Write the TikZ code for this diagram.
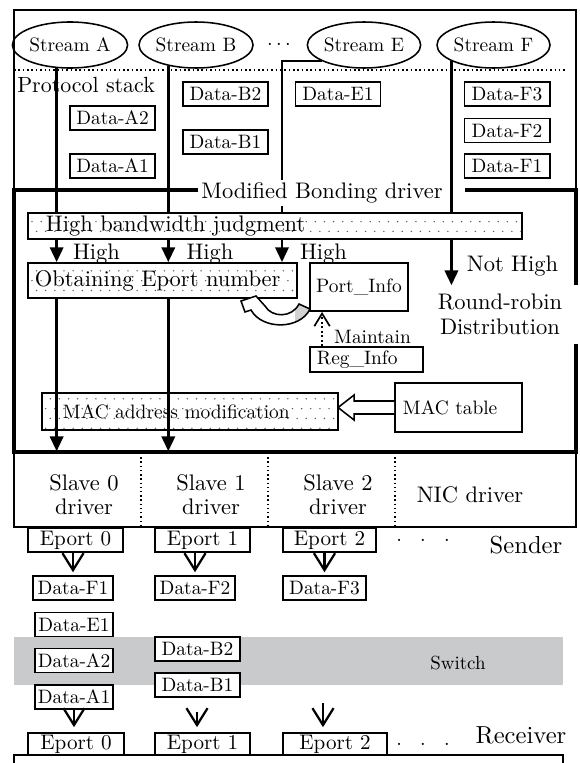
\documentclass[tikz,border=0pt]{standalone}
\usepackage{fontspec}
\setmainfont{lmroman10-regular.otf}
\usetikzlibrary{shapes.geometric,arrows.meta,patterns}
\pgfdeclarepatternformonly{sparsedots}{\pgfpoint{-0.6pt}{-0.6pt}}{\pgfpoint{6pt}{13.5pt}}{\pgfpoint{6.5pt}{14pt}}{%
  \pgfpathcircle{\pgfpoint{0pt}{0pt}}{0.55pt}%
  \pgfpathcircle{\pgfpoint{3.25pt}{7pt}}{0.55pt}%
  \pgfusepath{fill}%
}
\definecolor{switchgray}{RGB}{201,202,204}
\begin{document}
\begin{tikzpicture}[x=0.025cm, y=0.025cm,
    every node/.style={inner sep=0pt},
    thinline/.style={line width=1.1pt},
    thickline/.style={line width=2.6pt},
    smalltext/.style={font=\fontsize{13.8}{15}\selectfont},
    bigtext/.style={font=\fontsize{16}{17}\selectfont},
    eporttext/.style={font=\fontsize{15}{16}\selectfont},
    sidetext/.style={font=\fontsize{17.5}{19}\selectfont},
    stream/.style={ellipse, draw, thinline, minimum width=2.825cm, minimum height=1.15cm, smalltext},
    databox/.style={draw, line width=1.4pt, fill=white, minimum width=2.125cm, minimum height=0.6cm, smalltext},
    eportbox/.style={draw, line width=1.3pt, fill=white, minimum height=0.6cm, eporttext},
    dotbox/.style={draw, line width=1.3pt, preaction={fill=white}, pattern=sparsedots, pattern color=black!65, align=left, bigtext},
    plainbox/.style={draw, line width=1.3pt, fill=white, align=left, smalltext},
    streamline/.style={line width=1.7pt},
    higharrow/.style={line width=1.7pt, -{Triangle[length=10.5pt,width=9.5pt]}},
    varrow/.style={line width=1.6pt, -{Straight Barb[length=12pt,width=15pt]}}]
  \useasboundingbox (0,0) rectangle (579,-763);
  \draw[thinline] (14,-190) -- (14,-10) -- (576,-10) -- (576,-190);
  \node[stream] (ellA) at (70,-45) {Stream A};
  \node[stream] (ellB) at (196,-45) {Stream B};
  \node[smalltext] (sdots) at (279,-45) {$\cdots$};
  \node[stream] (ellE) at (364,-45) {Stream E};
  \node[stream] (ellF) at (493.5,-45) {Stream F};
  \draw[thinline, dotted] (14,-70) -- (567,-70);
  \node[anchor=west, font=\fontsize{15.6}{17}\selectfont] (pstack) at (17,-85) {Protocol stack};
  \node[databox] (pA2) at (112.5,-118) {Data-A2};
  \node[databox] (pA1) at (112.5,-166) {Data-A1};
  \node[databox] (pB2) at (225.5,-94) {Data-B2};
  \node[databox] (pB1) at (225.5,-142) {Data-B1};
  \node[databox] (pE1) at (338,-94) {Data-E1};
  \node[databox] (pF3) at (507,-94) {Data-F3};
  \node[databox] (pF2) at (507,-130.5) {Data-F2};
  \node[databox] (pF1) at (507,-166) {Data-F1};
  \node[dotbox, text width=11.45cm, inner xsep=0.45cm, minimum height=0.65cm] (hb) at (275,-226) {High bandwidth judgment};
  \node[dotbox, text width=6.375cm, inner xsep=0.175cm, minimum height=0.875cm] (obt) at (162.5,-280.5) {Obtaining Eport number};
  \node[plainbox, align=center, minimum width=2.45cm, minimum height=1.2cm] (port) at (359,-287) {Port\_Info};
  \node[plainbox, text width=2.475cm, inner xsep=0.175cm, minimum height=0.625cm] (reg) at (366.5,-359.5) {Reg\_Info};
  \node[dotbox, smalltext, text width=6.35cm, inner xsep=0.525cm, minimum height=0.925cm] (macAddr) at (190,-411.5) {MAC address modification};
  \node[plainbox, text width=2.775cm, inner xsep=0.2cm, minimum height=1.225cm] (macTab) at (458.5,-407.5) {MAC table};
  \node[bigtext] (hiA) at (96.5,-254) {High};
  \node[bigtext] (hiB) at (210,-254) {High};
  \node[bigtext] (hiE) at (323.5,-254) {High};
  \node[bigtext] (notHigh) at (512.5,-266) {Not High};
  \node[smalltext] (maint) at (372.5,-337) {Maintain};
  \node[draw, thinline, minimum width=14.05cm, minimum height=1.875cm] (slaves) at (295,-489.5) {};
  \draw[streamline] (ellA.240) -- (ellA.240 |- hb.north);
  \draw[higharrow] (ellA.240 |- hb.south) -- (ellA.240 |- obt.north);
  \draw[higharrow] (ellA.240 |- obt.south) -- (ellA.240 |- slaves.north);
  \draw[streamline] (ellB.217) -- (ellB.217 |- hb.north);
  \draw[higharrow] (ellB.217 |- hb.south) -- (ellB.217 |- obt.north);
  \draw[higharrow] (ellB.217 |- obt.south) -- (ellB.217 |- slaves.north);
  \coordinate (colE) at (282,-100);
  \draw[streamline] (ellE.201) -| (colE |- hb.north);
  \draw[higharrow] (colE |- hb.south) -- (colE |- obt.north);
  \draw[streamline] (ellF.201) -- (ellF.201 |- hb.north);
  \node[bigtext, fill=white, inner sep=2pt] (title) at (322,-193) {Modified Bonding driver};
  \draw[thickline] (title.west |- 14,-190) -- (14,-190) -- (14,-452) -- (576,-452) -- (576,-190) -- (465,-190);
  \node[fill=white, align=center, minimum width=3.95cm, minimum height=1.45cm, font=\fontsize{16}{17.7}\selectfont] (rr) at (500,-314.5) {Round-robin\\Distribution};
  \draw[higharrow] (ellF.201 |- hb.south) -- (ellF.201 |- rr.north);
  \path (reg.north west) ++(13,0) coordinate (mntFoot);
  \draw[dotted, line width=1.2pt, -{Straight Barb[length=9pt,width=11pt]}] (mntFoot) -- (mntFoot |- port.south);
  \draw[thinline, fill=white] (macTab.west) ++(0,6.5) -- ++(-40,0) -- ++(0,6) -- ++(-16,-12.5) -- ++(16,-12.5) -- ++(0,6) -- ++(40,0);
  \fill[white] (299,-304) .. controls (292,-318) and (272,-318) .. (265,-306) -- (256,-296) -- (241,-301) -- (245,-312) -- (251,-310) .. controls (262,-330) and (300,-330) .. (310,-309) -- cycle;
  \begin{scope}
    \clip (295,-290) rectangle (320,-335);
    \fill[gray!35] (299,-304) .. controls (292,-318) and (272,-318) .. (265,-306) -- (256,-296) -- (241,-301) -- (245,-312) -- (251,-310) .. controls (262,-330) and (300,-330) .. (310,-309) -- cycle;
  \end{scope}
  \draw[thinline] (299,-304) .. controls (292,-318) and (272,-318) .. (265,-306) -- (256,-296) -- (241,-301) -- (245,-312) -- (251,-310) .. controls (262,-330) and (300,-330) .. (310,-309) -- cycle;
  \foreach \x in {141,268,395}
    \draw[line width=1pt, dotted] (\x,-453) -- (\x,-527);
  \node[bigtext, align=center] (s0) at (84,-495) {Slave 0\\driver};
  \node[bigtext, align=center] (s1) at (211,-495) {Slave 1\\driver};
  \node[bigtext, align=center] (s2) at (338,-495) {Slave 2\\driver};
  \node[bigtext] (nic) at (470,-495) {NIC driver};
  \node[eportbox, minimum width=2.375cm] (sEp0) at (75.5,-540) {Eport 0};
  \node[eportbox, minimum width=2.375cm] (sEp1) at (202.5,-540) {Eport 1};
  \node[eportbox, minimum width=2.325cm] (sEp2) at (329.5,-540) {Eport 2};
  \node[eporttext] (sDots) at (423,-541) {$\cdot$\hspace{13pt}$\cdot$\hspace{13pt}$\cdot$};
  \node[sidetext] (sender) at (526,-545) {Sender};
  \fill[switchgray] (14,-637) rectangle (563,-685);
  \node[font=\fontsize{13.5}{15}\selectfont] (switch) at (458,-663) {Switch};
  \node[databox, minimum width=2cm] (dF1) at (73,-588) {Data-F1};
  \node[databox, minimum width=2cm] (dF2) at (195,-588) {Data-F2};
  \node[databox, minimum width=2.075cm] (dF3) at (324.5,-588) {Data-F3};
  \node[databox, minimum width=1.95cm] (dE1) at (74,-624.5) {Data-E1};
  \node[databox, minimum width=1.95cm] (dA2) at (74,-660.5) {Data-A2};
  \node[databox, minimum width=1.95cm] (dA1) at (74,-697) {Data-A1};
  \node[databox] (dB2) at (197.5,-649) {Data-B2};
  \node[databox] (dB1) at (197.5,-685) {Data-B1};
  \draw[varrow, shorten >=2pt] (dF1 |- sEp0.south) -- (dF1.north);
  \draw[varrow, shorten >=2pt] (dF2 |- sEp1.south) -- (dF2.north);
  \draw[varrow, shorten >=2pt] (dF3 |- sEp2.south) -- (dF3.north);
  \draw[thinline] (14,-766) |- (563,-755) -- (563,-766);
  \node[eportbox, minimum width=2.4cm, minimum height=0.55cm] (rEp0) at (76,-744) {Eport 0};
  \node[eportbox, minimum width=2.375cm, minimum height=0.55cm] (rEp1) at (202.5,-744) {Eport 1};
  \node[eportbox, minimum width=2.6cm, minimum height=0.55cm] (rEp2) at (335,-744) {Eport 2};
  \node[eporttext] (rDots) at (423,-745) {$\cdot$\hspace{13pt}$\cdot$\hspace{13pt}$\cdot$};
  \node[sidetext] (receiver) at (521,-735) {Receiver};
  \coordinate (rB) at (197,-712);
  \coordinate (rE) at (323,-703);
  \draw[varrow, shorten >=3.5pt] (dA1.south) -- (dA1.south |- rEp0.north);
  \draw[varrow, shorten >=3.5pt] (rB) -- (rB |- rEp1.north);
  \draw[varrow, shorten >=3.5pt] (rE) -- (rE |- rEp2.north);
\end{tikzpicture}
\end{document}
